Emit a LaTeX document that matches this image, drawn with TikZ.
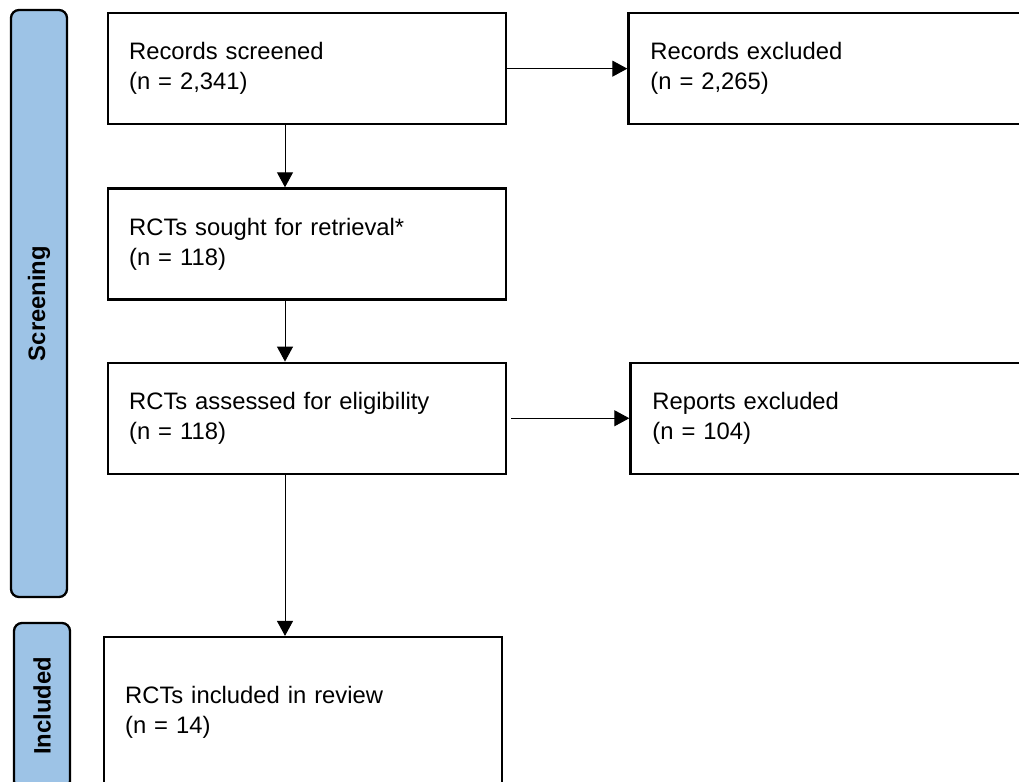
\documentclass[tikz,border=0pt]{standalone}
\usepackage{fontspec}
\setmainfont{Liberation Sans}
\usetikzlibrary{arrows.meta,positioning}
\definecolor{laneblue}{HTML}{9DC3E6}

\begin{document}
\begin{tikzpicture}[
  x=1pt, y=-1pt,
  node distance=62pt and 120pt,
  every node/.style={font=\fontsize{23.8}{30}\selectfont},
  box/.style={draw=black, line width=2.3pt, fill=white, minimum width=398pt,
              minimum height=111pt, inner xsep=21pt, text width=356pt, align=left},
  lane/.style={draw=black, line width=2.3pt, fill=laneblue, rounded corners=8pt, rotate=90,
               minimum height=56pt, font=\fontsize{23.8}{30}\selectfont\bfseries},
  arr/.style={-{Triangle[length=15pt,width=16pt]}, line width=1pt, draw=black}
]
\useasboundingbox (0,0) rectangle (1019,781);

\node[lane, minimum width=587pt] (screenlane) at (39,303.5) {Screening};
\node[lane, minimum width=166pt] (inclane) at (42,706) {Included};

\node[box, anchor=north west] (screened) at (107,12) {Records screened\\(n = 2,341)};
\node[box, below=62pt of screened] (sought) {RCTs sought for retrieval*\\(n = 118)};
\node[box, below=61pt of sought] (assessed) {RCTs assessed for eligibility\\(n = 118)};
\node[box, below=161pt of assessed, xshift=-4pt, minimum width=397pt,
      minimum height=150pt] (included) {RCTs included in review\\(n = 14)};

\node[box, right=120pt of screened, minimum width=400pt, inner xsep=22pt] (recexcl)
  {Records excluded\\(n = 2,265)};
\node[box, right=122pt of assessed, minimum width=400pt, inner xsep=22pt] (repexcl)
  {Reports excluded\\(n = 104)};

\coordinate (spine) at (285,0);
\draw[arr] (screened.south -| spine) -- (sought.north -| spine);
\draw[arr] (sought.south -| spine) -- (assessed.north -| spine);
\draw[arr] (assessed.south -| spine) -- (included.north -| spine);

\draw[arr] (screened.east) -- (recexcl.west);
\draw[arr, shorten <=4pt] (assessed.east) -- (repexcl.west);
\end{tikzpicture}
\end{document}
